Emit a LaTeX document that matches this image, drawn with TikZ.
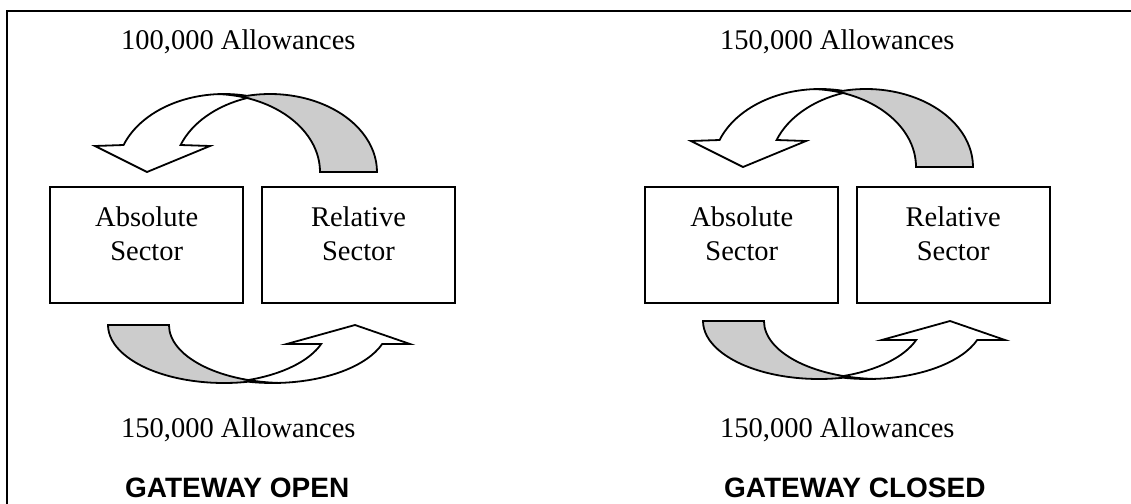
\documentclass[tikz,border=0pt]{standalone}
\usepackage{fontspec}
\setmainfont{Liberation Serif}
\newfontfamily\gwfont{Liberation Sans}
\definecolor{bandgray}{RGB}{204,204,204}
\tikzset{
  outline/.style={draw=black, line width=1.8pt, line join=miter},
  backband/.style={outline, fill=bandgray},
  frontband/.style={outline, fill=white},
  sectorbox/.style={draw=black, line width=1.9pt, rectangle, minimum width=193pt, minimum height=116pt,
    inner sep=0pt},
  boxtext/.style={align=center, font=\fontsize{28.5}{34}\selectfont, inner sep=0pt, anchor=north},
  allowtext/.style={font=\fontsize{28.5}{34}\selectfont, inner sep=0pt, anchor=base west},
  gatetext/.style={font=\gwfont\bfseries\fontsize{28}{32}\selectfont, inner sep=0pt, anchor=base west},
}
\newcommand{\curvedDown}{%
  \path[backband] (377,172)
    arc[start angle=0, end angle=102.41, x radius=107pt, y radius=78pt]
    arc[start angle=77.59, end angle=92.95, x radius=107pt, y radius=78pt]
    arc[start angle=87.05, end angle=0, x radius=107pt, y radius=78pt] -- cycle;
  \path[frontband] (123.61,145)
    arc[start angle=159.75, end angle=92.95, x radius=107pt, y radius=78pt]
    arc[start angle=87.05, end angle=71.47, x radius=107pt, y radius=78pt]
    arc[start angle=108.53, end angle=159.75, x radius=107pt, y radius=78pt]
    -- (210,146) -- (147,172) -- (95,146) -- cycle;
}
\newcommand{\curvedUp}{%
  \path[backband] (108,325)
    arc[start angle=180, end angle=282.09, x radius=116pt, y radius=58pt]
    arc[start angle=257.91, end angle=273.06, x radius=116pt, y radius=58pt]
    arc[start angle=266.94, end angle=180, x radius=116pt, y radius=58pt] -- cycle;
  \path[frontband] (382.2,344)
    arc[start angle=340.88, end angle=273.06, x radius=116pt, y radius=58pt]
    arc[start angle=266.94, end angle=251.55, x radius=116pt, y radius=58pt]
    arc[start angle=288.45, end angle=340.88, x radius=116pt, y radius=58pt]
    -- (286.7,344) -- (355,325) -- (410,344) -- cycle;
}
\begin{document}
\begin{tikzpicture}[x=1pt, y=-1pt]
\useasboundingbox (0,0) rectangle (1131,503);
\fill[white] (0,0) rectangle (1131,503);
\coordinate (frameTR) at (1135,11);
\coordinate (frameTL) at (7,11);
\coordinate (frameBL) at (7,507);
\draw[line width=1.8pt] (frameTR) -- (frameTL) -- (frameBL);

% left panel
\curvedDown
\curvedUp
\node[sectorbox] (absL) at (146.7,245) {};
\node[sectorbox] (relL) at (358.5,245) {};
\node[boxtext] (absLtext) at (146.7,207) {Absolute\\Sector};
\node[boxtext] (relLtext) at (358.5,207) {Relative\\Sector};
\node[allowtext] (topL) at (121,49.5) {100,000 Allowances};
\node[allowtext] (botL) at (121,437) {150,000 Allowances};
\node[gatetext] (gateL) at (125,497) {GATEWAY OPEN};

% right panel
\begin{scope}[shift={(596,-5)}]
\curvedDown
\end{scope}
\begin{scope}[shift={(595,-4)}]
\curvedUp
\end{scope}
\node[sectorbox] (absR) at (741.8,245) {};
\node[sectorbox] (relR) at (953.2,245) {};
\node[boxtext] (absRtext) at (741.8,207) {Absolute\\Sector};
\node[boxtext] (relRtext) at (953.2,207) {Relative\\Sector};
\node[allowtext] (topR) at (720,49.5) {150,000 Allowances};
\node[allowtext] (botR) at (720,437) {150,000 Allowances};
\node[gatetext] (gateR) at (724,497) {GATEWAY CLOSED};
\end{tikzpicture}
\end{document}
